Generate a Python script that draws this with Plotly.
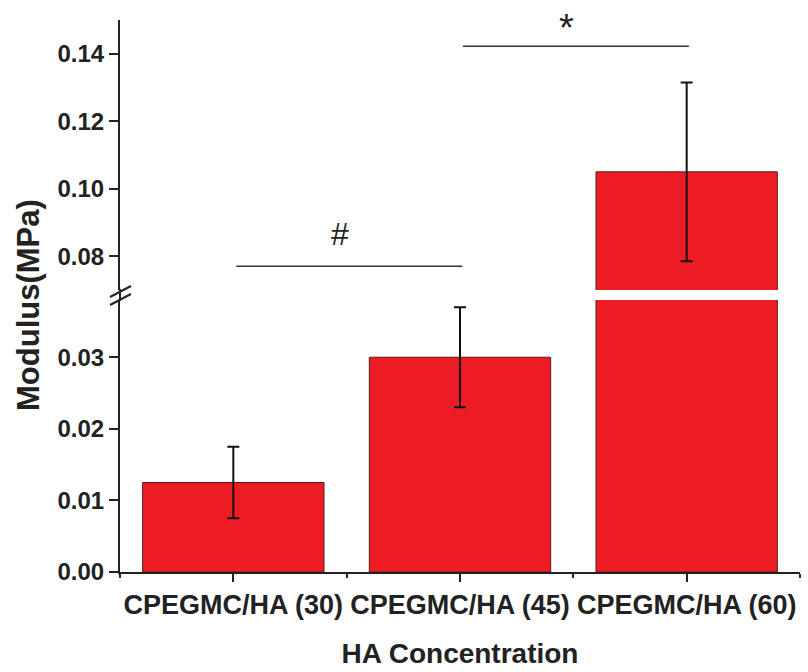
import plotly.graph_objects as go

# ---- data ----
categories = ["CPEGMC/HA (30)", "CPEGMC/HA (45)", "CPEGMC/HA (60)"]
modulus = [0.0125, 0.030, 0.105]
modulus_err = [0.005, 0.007, 0.0265]
lower_ticks = [0.00, 0.01, 0.02, 0.03]
upper_ticks = [0.08, 0.10, 0.12, 0.14]
sig_pairs = [(0, 1, 0.077, "#", 0.0865, 32), (1, 2, 0.1422, "*", 0.1475, 38)]

W, H = 808, 672
ML, MR, MT, MB = 120, 8, 20, 100
PH = H - MT - MB

x = list(range(len(categories)))
font_fam = "Liberation Sans, Arial, sans-serif"
txt = "#222222"
red = "#ED1C24"

lower_range = [0, 0.038]
upper_range = [0.07, 0.15]
lower_dom = [0, 0.4928]
upper_dom = [0.5109, 1]

fig = go.Figure()
# bars on lower axis (small values + clipped big value)
fig.add_trace(go.Bar(
    x=x, y=modulus, width=0.8, yaxis="y", xaxis="x",
    marker=dict(color=red, line=dict(color="#5a1a1a", width=1)),
    error_y=dict(type="data", array=[modulus_err[0], modulus_err[1], 0],
                 color="#111111", thickness=2, width=6),
    showlegend=False, hoverinfo="skip"))
# bars on upper axis
fig.add_trace(go.Bar(
    x=x, y=modulus, width=0.8, yaxis="y2", xaxis="x",
    marker=dict(color=red, line=dict(color="#5a1a1a", width=1)),
    error_y=dict(type="data", array=[0, 0, modulus_err[2]],
                 color="#111111", thickness=2, width=6),
    showlegend=False, hoverinfo="skip"))

axis_common = dict(showline=True, linecolor=txt, linewidth=2, ticks="outside",
                   tickcolor=txt, tickwidth=2, showgrid=False, zeroline=False,
                   tickfont=dict(family=font_fam, size=24, color=txt, weight="bold"))

fig.update_layout(
    width=W, height=H,
    margin=dict(l=ML, r=MR, t=MT, b=MB),
    plot_bgcolor="white", paper_bgcolor="white",
    bargap=0.2,
    xaxis=dict(range=[-0.5, 2.5], tickvals=x, ticktext=categories,
               showline=True, linecolor=txt, linewidth=2, ticks="outside",
               ticklen=8, tickcolor=txt, tickwidth=2, showgrid=False,
               zeroline=False, anchor="y",
               minor=dict(tickvals=[-0.5, 0.5, 1.5, 2.5], ticks="outside",
                          ticklen=4, tickcolor=txt, tickwidth=2, showgrid=False),
               tickfont=dict(family=font_fam, size=27, color=txt, weight="bold"),
               title=dict(text="HA Concentration", standoff=24,
                          font=dict(family=font_fam, size=28, color=txt, weight="bold"))),
    yaxis=dict(domain=lower_dom, range=lower_range, tickvals=lower_ticks,
               tickformat=".2f", ticklen=9, anchor="x", **axis_common),
    yaxis2=dict(domain=upper_dom, range=upper_range, tickvals=upper_ticks,
                tickformat=".2f", ticklen=9, anchor="x", **axis_common),
)

# significance lines and labels
for a, b, yl, lab, yt, fs in sig_pairs:
    fig.add_shape(type="line", xref="x", yref="y2", x0=a + 0.013, x1=b + 0.01,
                  y0=yl, y1=yl, line=dict(color="#333333", width=1.5))
    fig.add_annotation(x=(a + b) / 2 - 0.03, y=yt, xref="x", yref="y2", text=lab,
                       showarrow=False, xanchor="center", yanchor="middle",
                       font=dict(family=font_fam, size=fs, color=txt))

# axis break: connect line and two slashes
def px(xp):
    return (xp - ML) / (W - ML - MR)

def py(yp):
    return (H - MB - yp) / PH

fig.add_shape(type="line", xref="paper", yref="paper", x0=0, x1=0,
              y0=py(301), y1=py(289), line=dict(color=txt, width=2))
for off in (0, 8):
    fig.add_shape(type="line", xref="paper", yref="paper",
                  x0=px(110), y0=py(297 + off), x1=px(131), y1=py(286 + off),
                  line=dict(color=txt, width=2))

# y title
fig.add_annotation(x=px(28), y=py(305), xref="paper", yref="paper",
                   text="Modulus(MPa)", textangle=-90, showarrow=False,
                   xanchor="center", yanchor="middle",
                   font=dict(family=font_fam, size=31, color=txt, weight="bold"))

fig.write_html("out.html")
